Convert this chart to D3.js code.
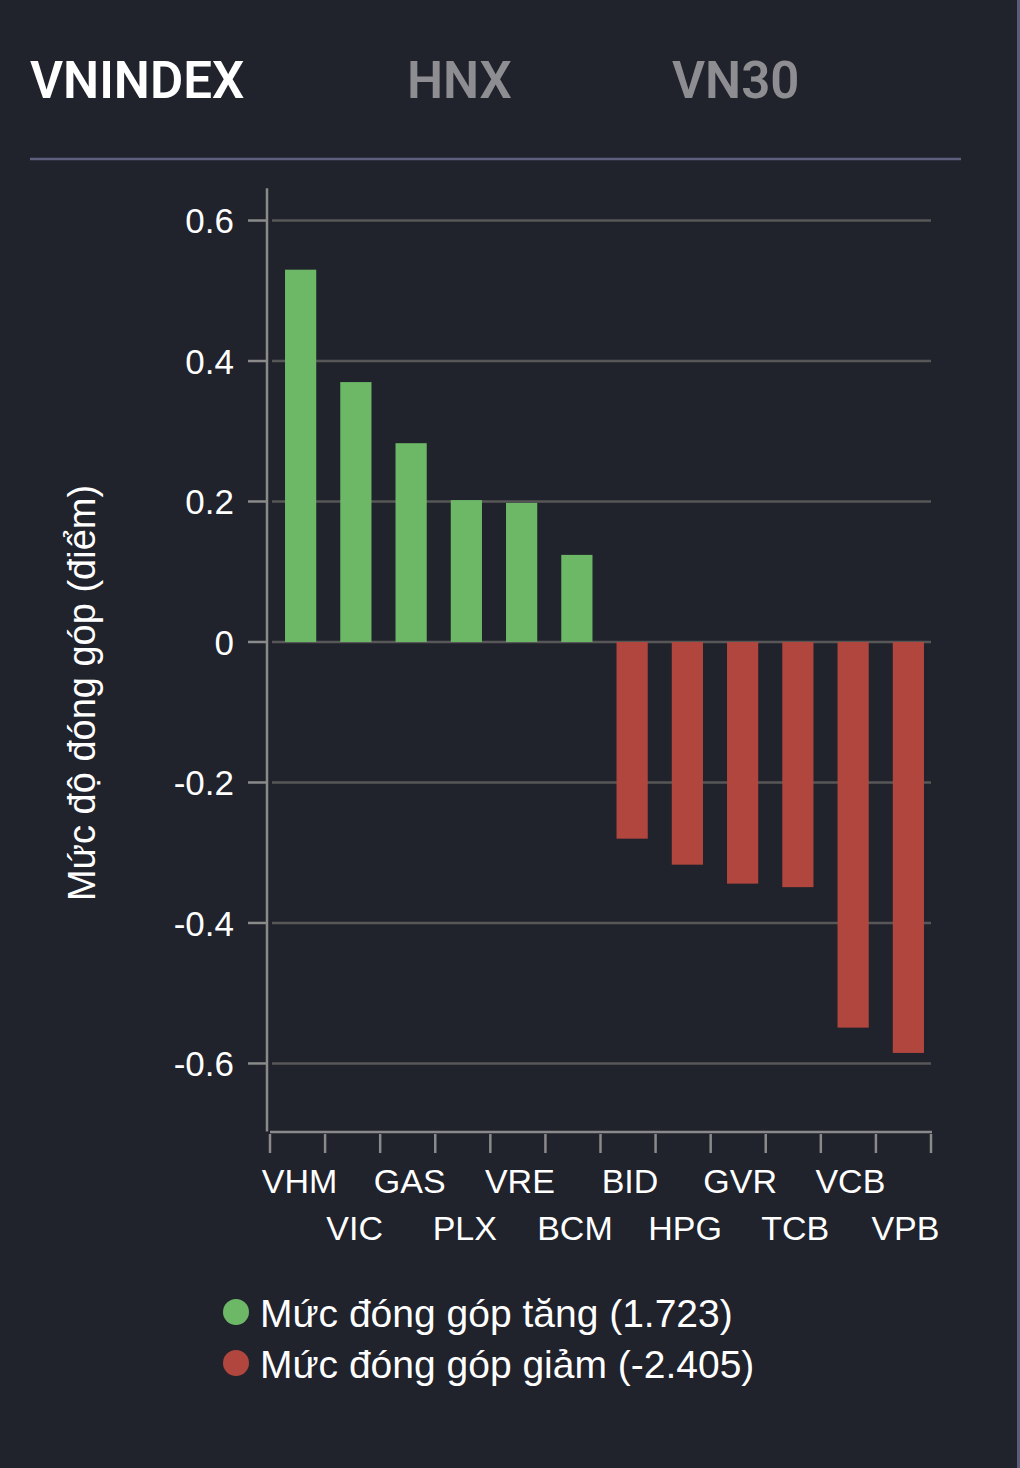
<!DOCTYPE html>
<html>
<head>
<meta charset="utf-8">
<script src="https://cdn.jsdelivr.net/npm/d3@7"></script>
<style>
  html, body { margin: 0; padding: 0; background: #20222c; }
  svg { display: block; }
</style>
</head>
<body>
<svg id="chart" width="1020" height="1468"></svg>
<script>
const tabs = ["VNINDEX", "HNX", "VN30"];
const categories = ["VHM", "VIC", "GAS", "PLX", "VRE", "BCM", "BID", "HPG", "GVR", "TCB", "VCB", "VPB"];
const values = [0.530, 0.370, 0.283, 0.202, 0.198, 0.124, -0.280, -0.317, -0.344, -0.349, -0.549, -0.585];
const yTicks = [0.6, 0.4, 0.2, 0, -0.2, -0.4, -0.6];
const legendLabels = ["Mức đóng góp tăng (1.723)", "Mức đóng góp giảm (-2.405)"];
const yTitle = "Mức độ đóng góp (điểm)";

const GREEN = "#6cb867", RED = "#b0463e";
const FONT = "'Liberation Sans', Arial, Helvetica, sans-serif";

const svg = d3.select("#chart");
svg.append("rect").attr("width", 1020).attr("height", 1468).attr("fill", "#20222c");
svg.append("rect").attr("x", 1017).attr("y", 0).attr("width", 3).attr("height", 1468).attr("fill", "#5b5b7a");

// Tabs
const tabX = [30, 407, 672];
svg.selectAll("text.tab").data(tabs).join("text")
  .attr("class", "tab")
  .attr("x", (d, i) => tabX[i]).attr("y", 98)
  .attr("font-family", "Roboto, 'Open Sans', sans-serif")
  .attr("font-weight", 600).attr("font-size", 51)
  .attr("fill", (d, i) => i === 0 ? "#ffffff" : "#8d8d92")
  .text(d => d);
svg.append("line").attr("x1", 30).attr("x2", 961).attr("y1", 159).attr("y2", 159)
  .attr("stroke", "#5e5f7e").attr("stroke-width", 2.5);

// Scales
const y = d3.scaleLinear().domain([-0.697, 0.646]).range([1131.6, 188.2]);
const xTick = d3.scaleBand().domain(categories).range([270, 931]);
const xBar = d3.scaleBand().domain(categories).range([273, 936]).paddingInner(0.435).paddingOuter(0.2175);

// Gridlines
svg.selectAll("line.grid").data(yTicks).join("line")
  .attr("class", "grid")
  .attr("x1", 272).attr("x2", 931)
  .attr("y1", d => y(d)).attr("y2", d => y(d))
  .attr("stroke", "#575757").attr("stroke-width", 2.5);

// Bars
svg.selectAll("rect.bar").data(values).join("rect")
  .attr("class", "bar")
  .attr("x", (d, i) => xBar(categories[i]))
  .attr("width", xBar.bandwidth())
  .attr("y", d => Math.min(y(d), y(0)))
  .attr("height", d => Math.abs(y(d) - y(0)))
  .attr("fill", d => d >= 0 ? GREEN : RED);

// Y axis
const yAxis = svg.append("g");
yAxis.append("line").attr("x1", 267).attr("x2", 267)
  .attr("y1", y(0.646)).attr("y2", y(-0.697))
  .attr("stroke", "#8a8a8a").attr("stroke-width", 2.5);
yAxis.selectAll("line.tick").data(yTicks).join("line")
  .attr("class", "tick")
  .attr("x1", 248).attr("x2", 266)
  .attr("y1", d => y(d)).attr("y2", d => y(d))
  .attr("stroke", "#8a8a8a").attr("stroke-width", 2.5);
yAxis.selectAll("text").data(yTicks).join("text")
  .attr("x", 234).attr("y", d => y(d)).attr("dy", "0.36em")
  .attr("text-anchor", "end")
  .attr("font-family", FONT).attr("font-size", 35)
  .attr("fill", "#ffffff")
  .text(d => d3.format("")(d).replace("−", "-"));

// X axis
const xAxis = svg.append("g");
const boundaries = categories.map(c => xTick(c)).concat([xTick.range()[1]]);
xAxis.append("line").attr("x1", 270).attr("x2", 932)
  .attr("y1", 1132).attr("y2", 1132)
  .attr("stroke", "#8a8a8a").attr("stroke-width", 2.5);
xAxis.selectAll("line.tick").data(boundaries).join("line")
  .attr("class", "tick")
  .attr("x1", d => d).attr("x2", d => d)
  .attr("y1", 1134).attr("y2", 1153)
  .attr("stroke", "#8a8a8a").attr("stroke-width", 2.5);
xAxis.selectAll("text").data(categories).join("text")
  .attr("x", d => xTick(d) + xTick.bandwidth() / 2 + 2)
  .attr("y", (d, i) => i % 2 === 0 ? 1193 : 1240)
  .attr("text-anchor", "middle")
  .attr("font-family", FONT).attr("font-size", 34)
  .attr("fill", "#ffffff")
  .text(d => d);

// Y title
svg.append("text")
  .attr("transform", "translate(95,693) rotate(-90)")
  .attr("text-anchor", "middle")
  .attr("font-family", FONT).attr("font-size", 38)
  .attr("fill", "#ffffff")
  .text(yTitle);

// Legend
const legend = svg.selectAll("g.legend").data(legendLabels).join("g")
  .attr("class", "legend")
  .attr("transform", (d, i) => `translate(236, ${1312 + i * 51})`);
legend.append("circle").attr("r", 13).attr("fill", (d, i) => i === 0 ? GREEN : RED);
legend.append("text")
  .attr("x", 24).attr("y", 15)
  .attr("font-family", FONT).attr("font-size", 39)
  .attr("fill", "#ffffff")
  .text(d => d);
</script>
</body>
</html>
